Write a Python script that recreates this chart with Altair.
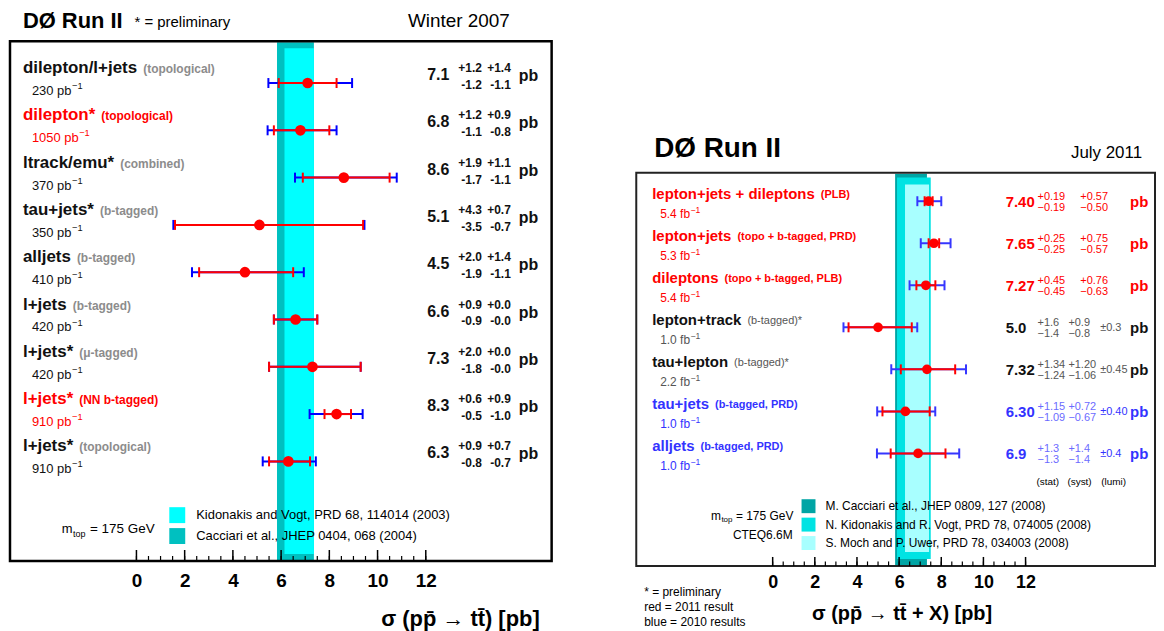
import altair as alt
import pandas as pd
import numpy as np

FONT = "Liberation Sans"

# ---------------- data: left panel (Winter 2007) ----------------
L_channel = ["dilepton/l+jets", "dilepton*", "ltrack/emu*", "tau+jets*", "alljets",
             "l+jets", "l+jets*", "l+jets*", "l+jets*"]
L_method = ["(topological)", "(topological)", "(combined)", "(b-tagged)", "(b-tagged)",
            "(b-tagged)", "(\u03bc-tagged)", "(NN b-tagged)", "(topological)"]
L_lumi = ["230", "1050", "370", "350", "410", "420", "420", "910", "910"]
L_sigma = [7.1, 6.8, 8.6, 5.1, 4.5, 6.6, 7.3, 8.3, 6.3]
L_stat_up = [1.2, 1.2, 1.9, 4.3, 2.0, 0.9, 2.0, 0.6, 0.9]
L_stat_dn = [1.2, 1.1, 1.7, 3.5, 1.9, 0.9, 1.8, 0.5, 0.8]
L_syst_up = [1.4, 0.9, 1.1, 0.7, 1.4, 0.0, 0.0, 0.9, 0.7]
L_syst_dn = [1.1, 0.8, 1.1, 0.7, 1.1, 0.0, 0.0, 1.0, 0.7]
L_highlight = [False, True, False, False, False, False, False, True, False]
L_theory_names = ["Kidonakis and Vogt, PRD 68, 114014 (2003)",
                  "Cacciari et al., JHEP 0404, 068 (2004)"]
L_theory_lo = [6.14, 5.83]
L_theory_hi = [7.36, 7.36]

# ---------------- data: right panel (July 2011) ----------------
R_channel = ["lepton+jets + dileptons", "lepton+jets", "dileptons", "lepton+track",
             "tau+lepton", "tau+jets", "alljets"]
R_method = ["(PLB)", "(topo + b-tagged, PRD)", "(topo + b-tagged, PLB)", "(b-tagged)*",
            "(b-tagged)*", "(b-tagged, PRD)", "(b-tagged, PRD)"]
R_lumi = ["5.4", "5.3", "5.4", "1.0", "2.2", "1.0", "1.0"]
R_sigma = [7.40, 7.65, 7.27, 5.0, 7.32, 6.30, 6.9]
R_stat_up = [0.19, 0.25, 0.45, 1.6, 1.34, 1.15, 1.3]
R_stat_dn = [0.19, 0.25, 0.45, 1.4, 1.24, 1.09, 1.3]
R_syst_up = [0.57, 0.75, 0.76, 0.9, 1.20, 0.72, 1.4]
R_syst_dn = [0.50, 0.57, 0.63, 0.8, 1.06, 0.67, 1.4]
R_lumi_unc = [0, 0, 0, 0.3, 0.45, 0.40, 0.4]
R_digits = [2, 2, 2, 1, 2, 2, 1]
R_kind = ["2011", "2011", "2011", "prelim", "prelim", "2010", "2010"]
R_theory_names = ["M. Cacciari et al., JHEP 0809, 127 (2008)",
                  "N. Kidonakis and R. Vogt, PRD 78, 074005 (2008)",
                  "S. Moch and P. Uwer, PRD 78, 034003 (2008)"]
R_theory_lo = [5.81, 5.90, 6.28]
R_theory_hi = [7.32, 7.50, 7.42]

TICK_LABELS = [0, 2, 4, 6, 8, 10, 12]

# ---------------- text width helper (Arial / Liberation metrics) ----------------
BOLD_W, REG_W = {}, {}
def _fill(tab, chars, w):
    for ch in chars:
        tab[ch] = w
for tab in (BOLD_W, REG_W):
    _fill(tab, " ,./", 278); _fill(tab, "()-:", 333); _fill(tab, "*", 389)
    _fill(tab, "+=", 584); _fill(tab, "0123456789", 556)
for ch, w in zip("abcdefghijklmnopqrstuvwxyz",
                 [556, 611, 556, 611, 556, 333, 611, 611, 278, 278, 556, 278, 889, 611, 611, 611, 611,
                  389, 556, 333, 611, 556, 778, 556, 556, 500]):
    BOLD_W[ch] = w
for ch, w in zip("abcdefghijklmnopqrstuvwxyz",
                 [556, 556, 500, 556, 556, 278, 556, 556, 222, 222, 500, 222, 833, 556, 556, 556, 556,
                  333, 500, 278, 556, 500, 722, 500, 500, 500]):
    REG_W[ch] = w

def tw(s, size, bold=True):
    tab = BOLD_W if bold else REG_W
    return sum(tab.get(ch, 600) for ch in s) * size / 1000.0


def build_panel(P, texts, boxes, bands, err):
    W, H = P["W"], P["H"]
    x0, x12, y1, yn, n = P["x0"], P["x12"], P["y1"], P["yn"], P["n"]
    xs = alt.Scale(domain=[0, 12], range=[x0, x12], nice=False, zero=False)
    ys = alt.Scale(domain=[1, n], range=[y1, yn], nice=False, zero=False)
    xaxis = alt.Axis(values=TICK_LABELS, ticks=False, domain=False, grid=False, title=None,
                     labelFont=FONT, labelFontWeight="bold", labelFontSize=P["lfs"],
                     labelColor="black", labelPadding=P["lpad"], labelFlush=False,
                     labelOverlap=False)

    def X(f):
        return alt.X(f, type="quantitative", scale=xs, axis=xaxis)

    def Y(f):
        return alt.Y(f, type="quantitative", scale=ys, axis=None)

    def dx(px):
        return (px - x0) / (x12 - x0) * 12.0

    def dy(py):
        return 1 + (py - y1) / (yn - y1) * (n - 1)

    one = pd.DataFrame({"k": [0]})
    layers = []
    # theory bands
    for lo, hi, c, top, bot in bands:
        layers.append(alt.Chart(pd.DataFrame({"lo": [lo], "hi": [hi]})).mark_rect(color=c).encode(
            x=X("lo"), x2=alt.X2("hi"), y=alt.value(top), y2=alt.value(bot)))
    # frame
    layers.append(alt.Chart(one).mark_rect(fillOpacity=0, stroke=P["fc"], strokeWidth=P["fw"]).encode(
        x=alt.value(0), x2=alt.value(W), y=alt.value(P["ftop"]), y2=alt.value(H)))
    # axis ticks (drawn inward)
    minor = pd.DataFrame({"t": np.arange(0, 12.01, 0.5)})
    major = pd.DataFrame({"t": np.arange(0, 12.01, 2.0)})
    layers.append(alt.Chart(minor).mark_rule(color="black", strokeWidth=1.2).encode(
        x=X("t"), y=alt.value(H), y2=alt.value(H - P["tmin"])))
    layers.append(alt.Chart(major).mark_rule(color="black", strokeWidth=1.5).encode(
        x=X("t"), y=alt.value(H), y2=alt.value(H - P["tmaj"])))
    # legend boxes
    for bx0, bx1, by0, by1, c in boxes:
        layers.append(alt.Chart(one).mark_rect(color=c).encode(
            x=alt.value(bx0), x2=alt.value(bx1), y=alt.value(by0), y2=alt.value(by1)))
    # error bars
    caps_tot = pd.concat([err[["row", "tlo"]].rename(columns={"tlo": "p"}),
                          err[["row", "thi"]].rename(columns={"thi": "p"})])
    caps_stat = pd.concat([err[["row", "slo"]].rename(columns={"slo": "p"}),
                           err[["row", "shi"]].rename(columns={"shi": "p"})])
    layers.append(alt.Chart(err).mark_rule(color=P["blue"], strokeWidth=2).encode(
        x=X("tlo"), x2=alt.X2("thi"), y=Y("row")))
    layers.append(alt.Chart(caps_tot).mark_tick(color=P["blue"], orient="vertical", size=P["cap"],
                                                thickness=2, opacity=1).encode(x=X("p"), y=Y("row")))
    layers.append(alt.Chart(err).mark_rule(color=P["red"], strokeWidth=2).encode(
        x=X("slo"), x2=alt.X2("shi"), y=Y("row")))
    layers.append(alt.Chart(caps_stat).mark_tick(color=P["red"], orient="vertical", size=P["cap"],
                                                 thickness=2, opacity=1).encode(x=X("p"), y=Y("row")))
    layers.append(alt.Chart(err).mark_circle(color=P["red"], size=P["psize"], opacity=1).encode(
        x=X("sigma"), y=Y("row")))
    # texts
    tdf = pd.DataFrame(texts)
    tdf["x"] = tdf["px"].map(dx)
    tdf["y"] = tdf["py"].map(dy)
    for (w, st, al), g in tdf.groupby(["w", "st", "al"]):
        layers.append(alt.Chart(g.reset_index(drop=True)).mark_text(
            baseline="middle", align=al, fontWeight=w, fontStyle=st, font=FONT).encode(
            x=X("x"), y=Y("y"), text=alt.Text("t:N"),
            color=alt.Color("c:N", scale=None), size=alt.Size("fs:Q", scale=None)))
    return alt.layer(*layers).properties(width=W, height=H)


def T(lst, t, x, y, fs, c="#000000", w="normal", al="left", st="normal"):
    lst.append(dict(t=t, px=x, py=y, fs=fs, c=c, w=w, al=al, st=st))


def lumi_text(lst, base, x, y, fs, c):
    # "230 pb" followed by a raised "-1"
    T(lst, base, x, y, fs, c)
    T(lst, "\u22121", x + tw(base, fs, False) + 0.5, y - fs * 0.38, fs * 0.72, c)


RED = "#ff0000"

# ================= left panel =================
LP = dict(W=544, H=554, x0=127, x12=417.6, y1=74, yn=454, n=len(L_sigma), lfs=19, lpad=11,
          fc="black", fw=2.5, ftop=32, tmin=5, tmaj=11, cap=10, psize=115,
          red=RED, blue="#0000ff")
lt = []
T(lt, "D\u00d8 Run II", 13, 12, 22, "#000000", "bold")
T(lt, "* = preliminary", 125, 13, 15)
T(lt, "Winter 2007", 502, 12, 19, al="right")
for i in range(len(L_sigma)):
    ry = LP["y1"] + (LP["yn"] - LP["y1"]) / (LP["n"] - 1) * i
    hl = L_highlight[i]
    col = RED if hl else "#111111"
    T(lt, L_channel[i], 13, ry - 15, 17, col, "bold")
    T(lt, L_method[i], 13 + tw(L_channel[i], 17) + 6, ry - 14, 12, RED if hl else "#8c8c8c", "bold")
    lumi_text(lt, L_lumi[i] + " pb", 22, ry + 8, 13, RED if hl else "#111111")
    T(lt, f"{L_sigma[i]:.1f}", 419, ry - 8, 16, "#111111", "bold")
    T(lt, f"+{L_stat_up[i]:.1f}", 474, ry - 15, 12, "#111111", "bold", "right")
    T(lt, f"-{L_stat_dn[i]:.1f}", 474, ry + 2, 12, "#111111", "bold", "right")
    T(lt, f"+{L_syst_up[i]:.1f}", 503, ry - 15, 12, "#111111", "bold", "right")
    T(lt, f"-{L_syst_dn[i]:.1f}", 503, ry + 2, 12, "#111111", "bold", "right")
    T(lt, "pb", 511, ry - 7, 16, "#111111", "bold")
L_colors = ["#00ffff", "#00c0c0"]
for k, name in enumerate(L_theory_names):
    T(lt, name, 187, 508 + 21 * k, 13)
mx = 52
T(lt, "m", mx, 522, 13)
T(lt, "top", mx + tw("m", 13, False) + 0.5, 527, 9)
T(lt, "= 175 GeV", mx + tw("m", 13, False) + tw("top", 9, False) + 5, 522, 13.5)
T(lt, "\u03c3 (pp\u0304 \u2192 tt\u0304) [pb]", 532, 612, 22, "#000000", "bold", "right")
L_boxes = [(160, 176, 500, 516, L_colors[0]), (160, 176, 521, 537, L_colors[1])]
L_bands = [(L_theory_lo[1], L_theory_hi[1], L_colors[1], 33, 554),
           (L_theory_lo[0], L_theory_hi[0], L_colors[0], 39, 547)]
L_err = pd.DataFrame({
    "row": np.arange(1, len(L_sigma) + 1),
    "sigma": L_sigma,
    "slo": np.array(L_sigma) - np.array(L_stat_dn),
    "shi": np.array(L_sigma) + np.array(L_stat_up),
    "tlo": np.array(L_sigma) - np.hypot(L_stat_dn, L_syst_dn),
    "thi": np.array(L_sigma) + np.hypot(L_stat_up, L_syst_up),
})
left = build_panel(LP, lt, L_boxes, L_bands, L_err)

# ================= right panel =================
RP = dict(W=521, H=559, x0=137, x12=391, y1=192.7, yn=446, n=len(R_sigma), lfs=18, lpad=8,
          fc="#222222", fw=2, ftop=164, tmin=4.5, tmaj=9, cap=10, psize=95,
          red=RED, blue="#3636ff")
KIND_COL = {"2011": (RED, RED, RED, RED, "bold"),
            "prelim": ("#111111", "#555555", "#555555", "#555555", "normal"),
            "2010": ("#3333ff", "#3333ff", "#3333ff", "#6b6bff", "bold")}
rt = []
T(rt, "D\u00d8 Run II", 18, 140, 28, "#000000", "bold")
T(rt, "July 2011", 508, 144, 17, al="right")
for i in range(len(R_sigma)):
    ry = RP["y1"] + (RP["yn"] - RP["y1"]) / (RP["n"] - 1) * i
    main_c, meth_c, sub_c, unc_c, meth_w = KIND_COL[R_kind[i]]
    d = R_digits[i]
    T(rt, R_channel[i], 16, ry - 7, 15, main_c, "bold")
    T(rt, R_method[i], 16 + tw(R_channel[i], 15) + 6, ry - 6, 11, meth_c, meth_w)
    lumi_text(rt, R_lumi[i] + " fb", 24, ry + 13, 12, sub_c)
    T(rt, f"{R_sigma[i]:.{d}f}", 371, ry + 1, 15, main_c, "bold")
    T(rt, f"+{R_stat_up[i]:.{d}f}", 403, ry - 4.5, 11, unc_c)
    T(rt, f"\u2212{R_stat_dn[i]:.{d}f}", 403, ry + 7, 11, unc_c)
    sx = 434 if R_lumi_unc[i] > 0 else 446
    T(rt, f"+{R_syst_up[i]:.{d}f}", sx, ry - 4.5, 11, unc_c)
    T(rt, f"\u2212{R_syst_dn[i]:.{d}f}", sx, ry + 7, 11, unc_c)
    if R_lumi_unc[i] > 0:
        T(rt, f"\u00b1{R_lumi_unc[i]:.{d}f}", 466, ry + 1, 11, sub_c if R_kind[i] != "2010" else "#3333ff")
    T(rt, "pb", 496, ry + 1, 15, main_c, "bold")
T(rt, "(stat)", 402, 475, 10)
T(rt, "(syst)", 433, 475, 10)
T(rt, "(lumi)", 467, 475, 10)
R_colors = ["#00a5a5", "#00e3e3", "#a8ffff"]
for k, name in enumerate(R_theory_names):
    T(rt, name, 190, 499 + 18.5 * k, 12)
mx = 75
T(rt, "m", mx, 509, 12)
T(rt, "top", mx + tw("m", 12, False) + 0.5, 513, 8)
T(rt, "= 175 GeV", mx + tw("m", 12, False) + tw("top", 8, False) + 4, 509, 12)
T(rt, "CTEQ6.6M", 157, 528, 12, al="right")
T(rt, "* = preliminary", 8, 585, 12)
T(rt, "red = 2011 result", 8, 600, 12)
T(rt, "blue = 2010 results", 8, 615, 12)
T(rt, "\u03c3 (pp\u0304 \u2192 tt\u0304 + X) [pb]", 267, 607, 20, "#000000", "bold", "center")
R_boxes = [(166, 180, 492 + 18.5 * k, 506 + 18.5 * k, R_colors[k]) for k in range(3)]
R_bands = [(R_theory_lo[0], R_theory_hi[0], R_colors[0], 165, 559),
           (R_theory_lo[1], R_theory_hi[1], R_colors[1], 169, 552),
           (R_theory_lo[2], R_theory_hi[2], R_colors[2], 176, 545)]
Rs = np.array(R_sigma)
R_err = pd.DataFrame({
    "row": np.arange(1, len(R_sigma) + 1),
    "sigma": R_sigma,
    "slo": Rs - np.array(R_stat_dn),
    "shi": Rs + np.array(R_stat_up),
    "tlo": Rs - np.sqrt(np.square(R_stat_dn) + np.square(R_syst_dn) + np.square(R_lumi_unc)),
    "thi": Rs + np.sqrt(np.square(R_stat_up) + np.square(R_syst_up) + np.square(R_lumi_unc)),
})
right = build_panel(RP, rt, R_boxes, R_bands, R_err)

chart = (alt.hconcat(left, right, spacing=82)
         .properties(padding=0)
         .configure(font=FONT)
         .configure_view(stroke="transparent", strokeWidth=0, strokeOpacity=0))
chart.save("out.html", embed_options={"renderer": "svg", "actions": False})
